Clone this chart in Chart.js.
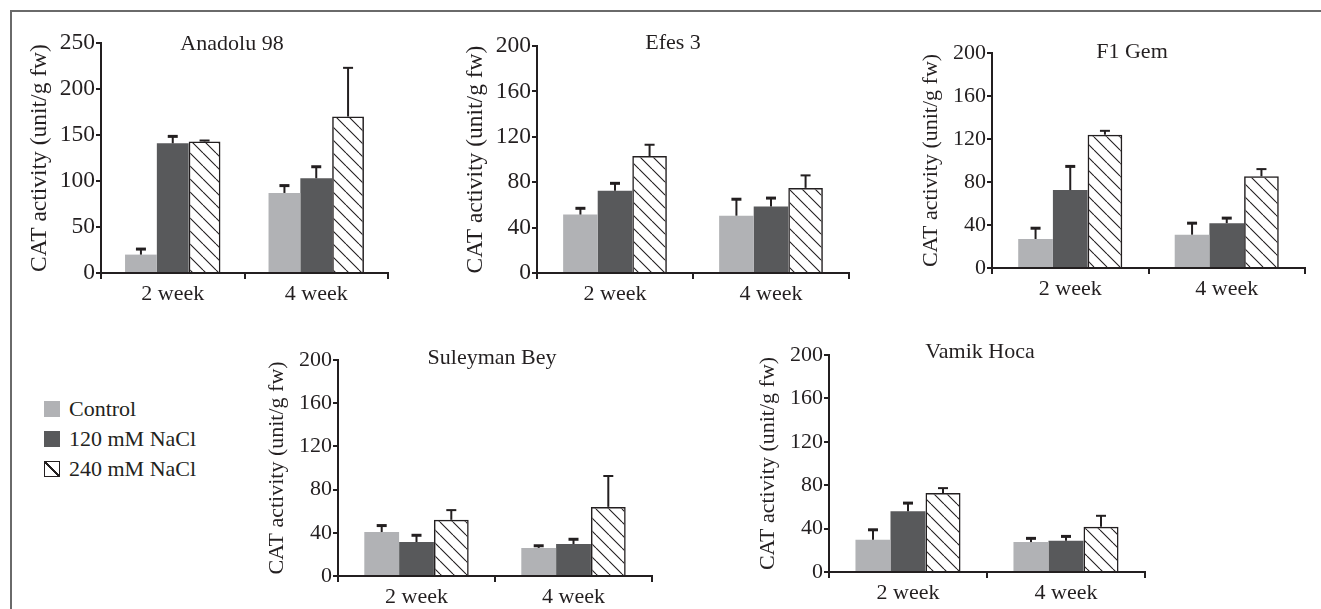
<!DOCTYPE html>
<html>
<head>
<meta charset="utf-8">
<script src="https://cdn.jsdelivr.net/npm/chart.js@4.4.0/dist/chart.umd.min.js"></script>
<style>
  html, body { margin: 0; padding: 0; background: #fff; overflow: hidden; }
  body { width: 1321px; height: 609px; position: relative; font-family: 'Liberation Serif', serif; color: #231f20; }
  .frame { position: absolute; left: 10px; top: 10px; right: -10px; bottom: -10px;
           border-top: 2px solid #6a6a6a; border-left: 2px solid #6a6a6a; }
  canvas { position: absolute; }
  .legend { position: absolute; left: 44px; top: 394px; font-size: 22px; }
  .row { height: 30px; display: flex; align-items: center; white-space: nowrap; }
  .sw { width: 16px; height: 16px; margin-right: 9px; box-sizing: border-box; }
</style>
</head>
<body>
<div class="frame"></div>
<div class="legend" id="legend"></div>
<script>
// values (CAT activity, unit/g fw)
const cultivars = ['Anadolu 98', 'Efes 3', 'F1 Gem', 'Suleyman Bey', 'Vamik Hoca'];
const weeks = ['2 week', '4 week'];
const treatments = ['Control', '120 mM NaCl', '240 mM NaCl'];

const controlMean = [[20, 87], [51.5, 50.5], [27, 31], [40.7, 26], [29.7, 27.6]];
const controlErr  = [[6, 8], [5.5, 14.5], [10, 10.7], [6, 2], [9.2, 3.4]];
const nacl120Mean = [[141, 103], [72.5, 58.5], [72.5, 41.7], [31.5, 29.6], [56, 28.8]];
const nacl120Err  = [[7.5, 12.5], [6.5, 7.5], [22, 4.7], [6.2, 4.4], [7.5, 4]];
const nacl240Mean = [[143, 170], [103, 75], [124, 85.3], [52, 64], [72.7, 41.7]];
const nacl240Err  = [[1, 53], [10, 11], [3.6, 6.7], [9, 28.6], [4.6, 10.1]];

const yMax  = [250, 200, 200, 200, 200];
const yStep = [50, 40, 40, 40, 40];

// page layout: plot area [left, right, top, bottom], title anchor, axis font size
const panels = [
  { area: [101, 388, 43, 273],  title: [232, 50],   font: 23.5 },
  { area: [537, 849, 46, 273],  title: [673, 49],   font: 23.5 },
  { area: [992, 1305, 53, 268], title: [1132, 58],  font: 22 },
  { area: [338, 652, 360, 576], title: [492, 364],  font: 22 },
  { area: [829, 1145, 355, 572], title: [980, 358], font: 22 }
];

const ink = '#231f20';
const lightGrey = '#b1b2b5';
const darkGrey = '#58595b';
const family = "'Liberation Serif', 'Times New Roman', serif";

function hatch(ctx) {
  const s = 13;
  const c = document.createElement('canvas');
  c.width = c.height = s;
  const g = c.getContext('2d');
  g.strokeStyle = ink;
  g.lineWidth = 1.1;
  g.beginPath();
  for (let k = -1; k <= 1; k++) {
    g.moveTo(k * s, 0);
    g.lineTo(k * s + s, s);
  }
  g.stroke();
  return ctx.createPattern(c, 'repeat');
}

const errorBars = {
  id: 'errorBars',
  afterDatasetsDraw(chart) {
    const ctx = chart.ctx;
    const y = chart.scales.y;
    chart.data.datasets.forEach((ds, i) => {
      chart.getDatasetMeta(i).data.forEach((bar, j) => {
        const top = y.getPixelForValue(ds.data[j] + ds.errors[j]);
        ctx.save();
        ctx.strokeStyle = ink;
        ctx.lineWidth = 2;
        ctx.beginPath();
        ctx.moveTo(bar.x, bar.y);
        ctx.lineTo(bar.x, top);
        ctx.stroke();
        ctx.lineWidth = ds.capWidth;
        ctx.beginPath();
        ctx.moveTo(bar.x - 5, top);
        ctx.lineTo(bar.x + 5, top);
        ctx.stroke();
        ctx.restore();
      });
    });
  }
};

const panelTitle = {
  id: 'panelTitle',
  afterDraw(chart, args, opts) {
    const ctx = chart.ctx;
    ctx.save();
    ctx.font = '22px ' + family;
    ctx.fillStyle = ink;
    ctx.textAlign = 'center';
    ctx.textBaseline = 'alphabetic';
    ctx.fillText(opts.text, opts.x, opts.y);
    ctx.restore();
  }
};

panels.forEach((p, i) => {
  const [L, R, T, B] = p.area;
  const left = L - 80, top = T - 20;
  const cv = document.createElement('canvas');
  cv.width = R - left + 12;
  cv.height = B - top + 36;
  cv.style.left = left + 'px';
  cv.style.top = top + 'px';
  document.body.appendChild(cv);
  const ctx = cv.getContext('2d');

  new Chart(cv, {
    type: 'bar',
    data: {
      labels: weeks,
      datasets: [
        { label: treatments[0], data: controlMean[i], errors: controlErr[i], capWidth: 3,
          backgroundColor: lightGrey, borderWidth: 0 },
        { label: treatments[1], data: nacl120Mean[i], errors: nacl120Err[i], capWidth: 3,
          backgroundColor: darkGrey, borderWidth: 0 },
        { label: treatments[2], data: nacl240Mean[i], errors: nacl240Err[i], capWidth: 2,
          backgroundColor: hatch(ctx), borderColor: ink, borderWidth: 1.5 }
      ].map(d => Object.assign(d, { barPercentage: 1, categoryPercentage: 0.665 }))
    },
    options: {
      responsive: false,
      animation: false,
      devicePixelRatio: 1,
      layout: { padding: { left: 0, top: 20, right: 12, bottom: 0 } },
      plugins: {
        legend: { display: false },
        tooltip: { enabled: false },
        panelTitle: { text: cultivars[i], x: p.title[0] - left, y: p.title[1] - top }
      },
      scales: {
        x: {
          offset: true,
          grid: { display: true, drawOnChartArea: false, drawTicks: true, tickLength: 6,
                  color: ink, lineWidth: 2, offset: true },
          border: { color: ink, width: 2 },
          ticks: { color: ink, font: { family: family, size: 22 }, padding: 2, maxRotation: 0 },
          afterFit: s => { s.height = 36; }
        },
        y: {
          min: 0,
          max: yMax[i],
          grid: { display: true, drawOnChartArea: false, drawTicks: true, tickLength: 5,
                  color: ink, lineWidth: 2 },
          border: { color: ink, width: 2 },
          ticks: { stepSize: yStep[i], color: ink, padding: 1, font: { family: family, size: p.font } },
          title: {
            display: true,
            text: 'CAT activity (unit/g fw)',
            color: ink,
            font: { family: family, size: p.font, lineHeight: 1 },
            padding: { top: 19 - p.font / 2, bottom: 0 }
          },
          afterFit: s => { s.width = 80; }
        }
      }
    },
    plugins: [errorBars, panelTitle]
  });
});

// legend
const swatches = [
  'background:' + lightGrey,
  'background:' + darkGrey,
  'border:1px solid ' + ink + ';background:linear-gradient(to top right, transparent 46%, ' + ink + ' 46%, ' + ink + ' 54%, transparent 54%)'
];
const legend = document.getElementById('legend');
treatments.forEach((t, k) => {
  const row = document.createElement('div');
  row.className = 'row';
  row.innerHTML = '<div class="sw" style="' + swatches[k] + '"></div><span>' + t + '</span>';
  legend.appendChild(row);
});
</script>
</body>
</html>
